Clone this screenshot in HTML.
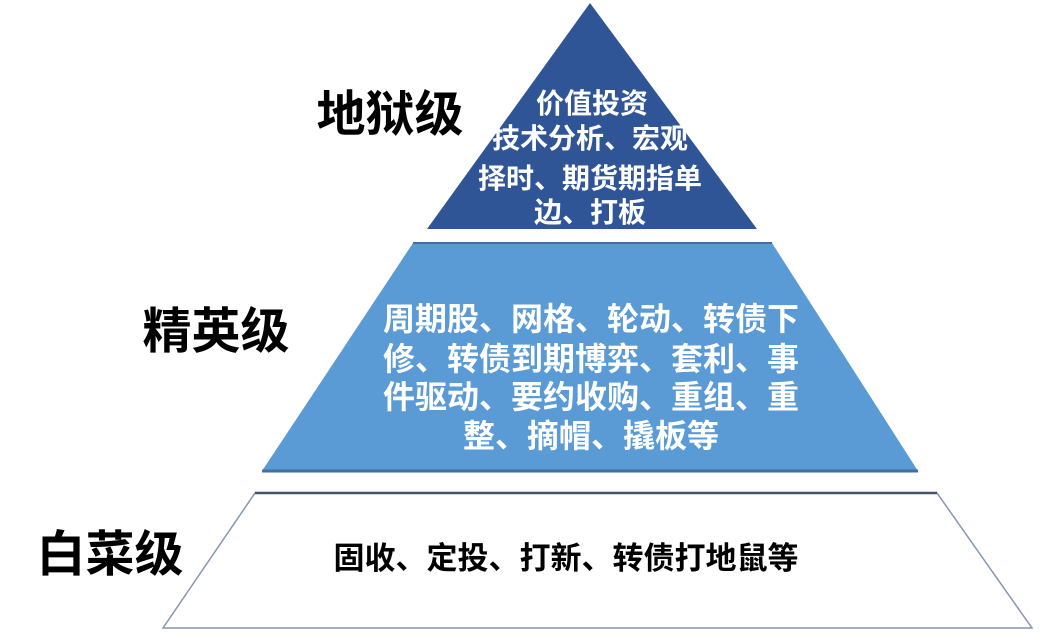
<!DOCTYPE html>
<html><head><meta charset="utf-8"><style>
html,body{margin:0;padding:0;background:#fff;}
svg{display:block;}
text{font-family:"Liberation Sans","Noto Sans CJK SC",sans-serif;font-weight:bold;text-anchor:middle;}
</style></head><body>
<svg width="1042" height="642" viewBox="0 0 1042 642">
<polygon points="590,3 757,229 427,229" fill="#2f5597"/>
<polygon points="413,243 772,243 918,471 262,471" fill="#5b9bd5"/>
<line x1="413" y1="243" x2="772" y2="243" stroke="#41719c" stroke-width="2"/>
<line x1="262" y1="471" x2="918" y2="471" stroke="#41719c" stroke-width="3"/>
<polygon points="255,493 937,493 1032,628 163,628" fill="#fff" stroke="#8497b0" stroke-width="1.5"/>
<line x1="255" y1="493" x2="937" y2="493" stroke="#44546a" stroke-width="2.5"/>
<g fill="#fff" font-size="28">
<text x="592" y="113">价值投资</text>
<text x="590" y="148">技术分析、宏观</text>
<text x="590" y="188">择时、期货期指单</text>
<text x="590" y="222">边、打板</text>
</g>
<g fill="#fff" font-size="32">
<text x="591" y="330">周期股、网格、轮动、转债下</text>
<text x="591" y="370">修、转债到期博弈、套利、事</text>
<text x="591" y="408">件驱动、要约收购、重组、重</text>
<text x="591" y="447">整、摘帽、撬板等</text>
</g>
<text x="566" y="569" font-size="31" fill="#000">固收、定投、打新、转债打地鼠等</text>
<g fill="#000" font-size="49">
<text x="390" y="131">地狱级</text>
<text x="216" y="348">精英级</text>
<text x="110" y="571">白菜级</text>
</g>
</svg>
</body></html>
